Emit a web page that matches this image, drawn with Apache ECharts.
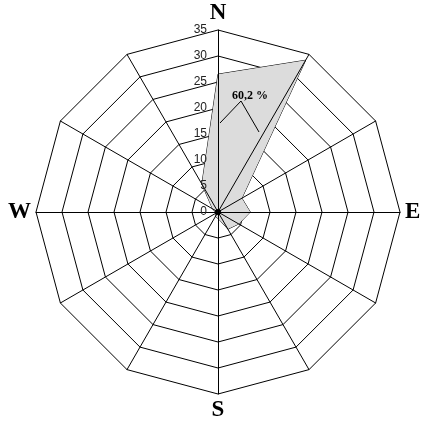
<!DOCTYPE html>
<html>
<head>
<meta charset="utf-8">
<script src="https://cdn.jsdelivr.net/npm/echarts@6/dist/echarts.min.js"></script>
<style>
html,body{margin:0;padding:0;background:#fff;}
#chart{width:429px;height:425px;}
</style>
</head>
<body>
<div id="chart"></div>
<script>
// Directions clockwise from North
const directions = ['N','NNE','ENE','E','ESE','SSE','S','SSW','WSW','W','WNW','NNW'];
const dirLabels  = ['N','','','E','','','S','','','W','',''];
const frequency  = [26.5, 33.7, 5.3, 6.2, 4.6, 3.8, 1.2, 1.0, 0.4, 0.5, 1.2, 6.2];
const radialTicks = [0,5,10,15,20,25,30,35];
const annotationText = '60,2 %';

const maxVal = radialTicks[radialTicks.length-1];
// ECharts radar runs counter-clockwise: reorder N, NNW, WNW, ...
const order = [0];
for (let i = directions.length-1; i > 0; i--) order.push(i);

const indicators = order.map(idx => ({name: dirLabels[idx], max: maxVal, min: 0}));
const indicatorsTop = order.map((idx, k) => {
  const o = {name: '', max: maxVal, min: 0};
  if (k === 0) o.axisLabel = {show: true};
  return o;
});
const values = order.map(idx => frequency[idx]);

const chart = echarts.init(document.getElementById('chart'), null, {renderer:'canvas'});
const C = [218, 212], R = 182;
chart.setOption({
  animation: false,
  backgroundColor: '#fff',
  radar: [{
    center: C, radius: R, startAngle: 90,
    shape: 'polygon',
    splitNumber: radialTicks.length-1,
    indicator: indicators,
    axisName: {color:'#000', fontFamily:'Liberation Serif', fontWeight:'bold', fontSize:23},
    nameGap: 5,
    axisLine: {show:false},
    axisTick: {show:false},
    axisLabel: {show:false},
    splitLine: {lineStyle:{color:'#000', width:1}},
    splitArea: {show:false},
    z: 0
  },{
    center: C, radius: R, startAngle: 90,
    shape: 'polygon',
    splitNumber: radialTicks.length-1,
    indicator: indicatorsTop,
    axisName: {show:false},
    axisLine: {show:true, lineStyle:{color:'#000', width:1}},
    axisTick: {show:false},
    axisLabel: {show:false, color:'#222', fontFamily:'Liberation Sans', fontSize:12, margin:11},
    splitLine: {show:false},
    splitArea: {show:false},
    z: 5
  }],
  series: [{
    type: 'radar',
    radarIndex: 0,
    z: 2,
    symbol: 'none',
    data: [{value: values}],
    lineStyle: {color:'#000', width:1},
    areaStyle: {color:'#dcdcdc', opacity:1}
  }],
  graphic: [
    {type:'circle', shape:{cx:C[0], cy:C[1], r:3}, style:{fill:'#000'}, z:10},
    {type:'polyline', shape:{points:[[220,123],[241,101],[259,132]]}, style:{stroke:'#000', lineWidth:1, fill:null}, z:10},
    {type:'text', x:250, y:96, style:{text:annotationText, font:'bold 12px "Liberation Serif"', fill:'#000', align:'center', verticalAlign:'middle'}, z:10}
  ]
});
</script>
</body>
</html>
